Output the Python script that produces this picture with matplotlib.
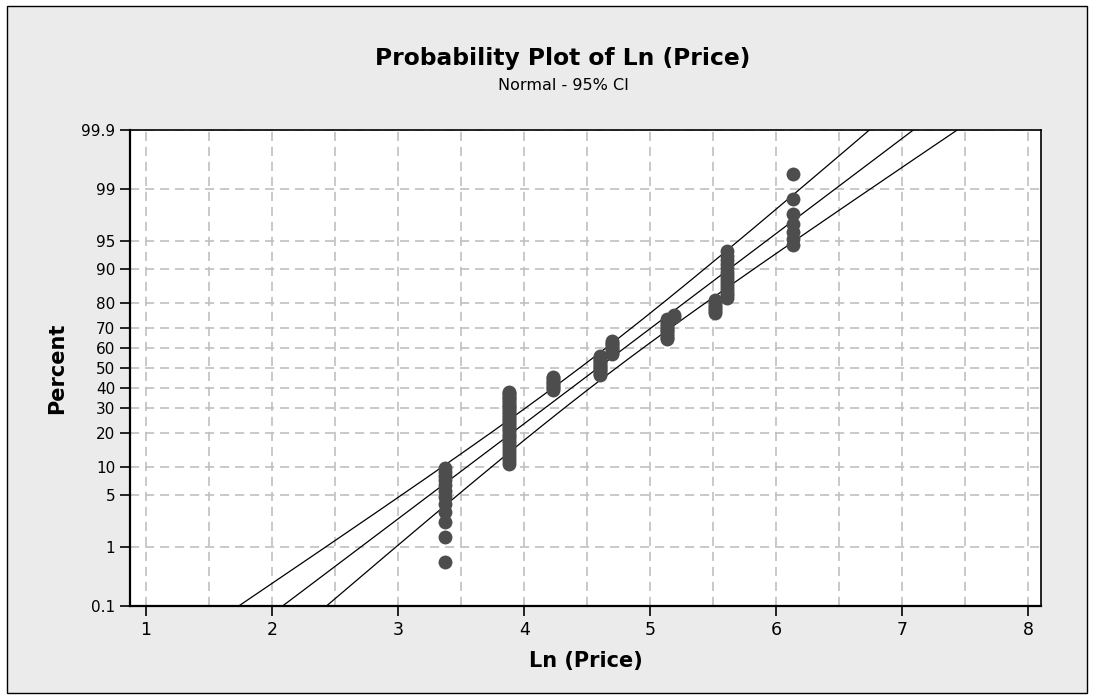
import matplotlib
matplotlib.use("Agg")
import matplotlib.pyplot as plt
import matplotlib.patches as patches
import numpy as np
from statistics import NormalDist

# Ln(Price) values seen as columns of points, and how many points sit in each
ln_price = [3.375, 3.880, 4.230, 4.600, 4.700, 5.130, 5.190, 5.515, 5.610, 6.135]
counts = [12, 34, 9, 13, 9, 12, 2, 7, 15, 7]

y_ticks = [0.1, 1, 5, 10, 20, 30, 40, 50, 60, 70, 80, 90, 95, 99, 99.9]
x_ticks = [1, 2, 3, 4, 5, 6, 7, 8]

nd = NormalDist()

def to_z(p):
    p = np.clip(np.asarray(p, dtype=float) / 100.0, 1e-12, 1 - 1e-12)
    return np.vectorize(nd.inv_cdf, otypes=[float])(p)

def from_z(z):
    return np.vectorize(nd.cdf, otypes=[float])(np.asarray(z, dtype=float)) * 100.0

# expand to individual observations, median ranks like Minitab
x = np.repeat(ln_price, counts)
n = len(x)
ranks = np.arange(1, n + 1)
pct = (ranks - 0.3) / (n + 0.4) * 100

# fitted normal and 95% confidence band
mu = x.mean()
sigma = x.std()
z = np.linspace(-4, 4, 400)
fit = mu + z * sigma
half = 1.96 * sigma * np.sqrt((1 + z ** 2 / 2) / n)
line_pct = from_z(z)

fig = plt.figure(figsize=(10.93, 6.99), dpi=100)
fig.patch.set_facecolor("white")
fig.patches.append(patches.Rectangle((7 / 1093, 6 / 699), 1080 / 1093, 687 / 699,
                                     transform=fig.transFigure, facecolor="#ebebeb",
                                     edgecolor="black", linewidth=1.0, zorder=-10))

ax = fig.add_axes([130 / 1093, 93 / 699, 911 / 1093, 476 / 699])
ax.set_facecolor("white")
ax.set_yscale("function", functions=(to_z, from_z))

ax.plot(fit, line_pct, color="black", lw=0.9, zorder=3)
ax.plot(fit - half, line_pct, color="black", lw=0.9, zorder=3)
ax.plot(fit + half, line_pct, color="black", lw=0.9, zorder=3)
ax.plot(x, pct, "o", color="#4d4d4d", markersize=10, markeredgewidth=0, zorder=4)

ax.set_xlim(0.873, 8.10)
ax.set_ylim(0.1, 99.9)
ax.set_xticks(x_ticks)
ax.set_xticks(np.arange(1.5, 8, 1.0), minor=True)
ax.set_yticks(y_ticks)
ax.set_yticklabels([str(t) for t in y_ticks])
ax.yaxis.set_minor_locator(matplotlib.ticker.NullLocator())
ax.tick_params(axis="both", which="major", direction="out", length=7, width=1.2,
               labelsize=11, colors="black")
ax.tick_params(axis="x", which="major", labelsize=12.5)
ax.tick_params(axis="x", which="minor", length=0)
ax.grid(True, which="both", axis="x", color="#c0c0c0", linestyle=(0, (5.5, 3.5)), lw=1.2)
ax.grid(True, which="major", axis="y", color="#c0c0c0", linestyle=(0, (5.5, 3.5)), lw=1.2)
ax.set_axisbelow(True)
for side in ["left", "bottom"]:
    ax.spines[side].set_linewidth(1.6)
for side in ["top", "right"]:
    ax.spines[side].set_linewidth(1.2)

ax.set_xlabel("Ln (Price)", fontsize=15, fontweight="bold", labelpad=9)
ax.set_ylabel("Percent", fontsize=15, fontweight="bold", labelpad=10)

fig.text(563 / 1093, 1 - 58 / 699, "Probability Plot of Ln (Price)", ha="center",
         va="center", fontsize=16.8, fontweight="bold")
fig.text(563 / 1093, 1 - 85 / 699, "Normal - 95% CI", ha="center", va="center", fontsize=11.5)

fig.savefig("out.png", dpi=100, facecolor=fig.get_facecolor())
